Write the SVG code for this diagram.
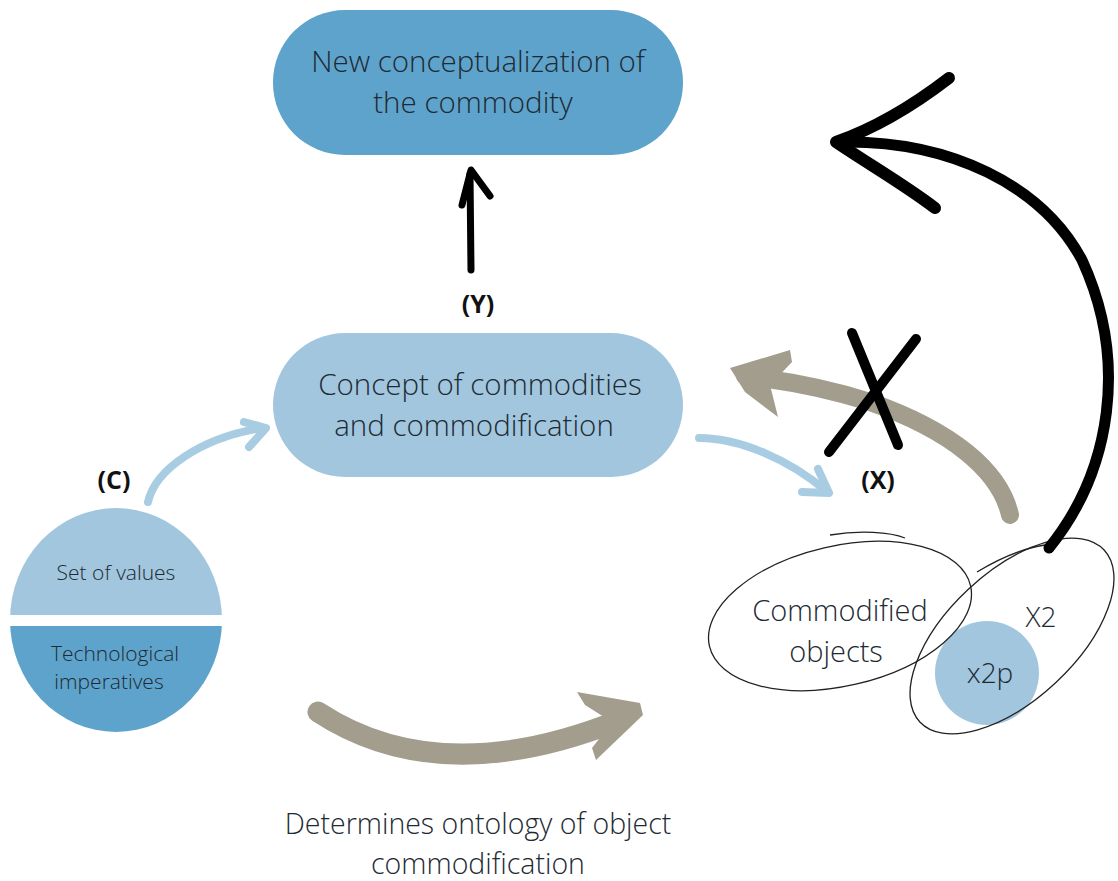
<svg xmlns="http://www.w3.org/2000/svg" width="1118" height="881" viewBox="0 0 1118 881">
  <style>
    .lbl { font-family: "Open Sans", "Liberation Sans", sans-serif; font-weight: 300; fill: #1e2a33; text-anchor: middle; }
    .tag { font-family: "Open Sans", "Liberation Sans", sans-serif; font-weight: 700; fill: #111; text-anchor: middle; font-size: 25px; }
    .dark { fill: #5ea3cb; }
    .light { fill: #a1c6de; }
    .sketch { fill: none; stroke: #222; stroke-width: 1.3; }
    .grey { fill: none; stroke: #a39d8d; stroke-linecap: round; }
    .greyhead { fill: #a39d8d; }
    .blue { fill: none; stroke: #a8cde3; stroke-width: 8; stroke-linecap: round; }
    .bluehead { fill: none; stroke: #a8cde3; stroke-width: 8; stroke-linecap: round; stroke-linejoin: round; }
    .ink { fill: none; stroke: #000; stroke-linecap: round; stroke-linejoin: round; }
  </style>
  <defs>
    <clipPath id="disc">
      <ellipse cx="116" cy="620" rx="106" ry="112"/>
    </clipPath>
  </defs>
  <rect width="1118" height="881" fill="#fff"/>

  <!-- top: new conceptualization -->
  <g id="node-new-concept">
    <rect x="273" y="10" width="410" height="145" rx="72" class="dark"/>
    <text class="lbl" font-size="29.5" x="478" y="72">New conceptualization of</text>
    <text class="lbl" font-size="29.5" x="473" y="113">the commodity</text>
  </g>

  <!-- middle: concept of commodities -->
  <g id="node-concept">
    <rect x="273" y="333" width="410" height="144" rx="72" class="light"/>
    <text class="lbl" font-size="29.5" x="480" y="395">Concept of commodities</text>
    <text class="lbl" font-size="29.5" x="474" y="436">and commodification</text>
  </g>

  <!-- split disc: values over imperatives -->
  <g id="node-values">
    <g clip-path="url(#disc)">
      <rect x="0" y="500" width="240" height="115" class="light"/>
      <rect x="0" y="626" width="240" height="115" class="dark"/>
    </g>
    <text class="lbl" font-size="21" x="116" y="580">Set of values</text>
    <text class="lbl" font-size="21" x="115" y="661">Technological</text>
    <text class="lbl" font-size="21" x="109" y="689">imperatives</text>
  </g>

  <!-- commodified objects and X2 sets -->
  <g id="node-x2p">
    <circle cx="987" cy="673" r="52" class="light"/>
  </g>
  <g id="node-commodified">
    <ellipse cx="840" cy="616" rx="134" ry="70" transform="rotate(-13 840 616)" class="sketch"/>
    <path d="M830,535 C860,530 890,532 905,538" class="sketch" stroke-width="1"/>
    <text class="lbl" font-size="29" x="840" y="621">Commodified</text>
    <text class="lbl" font-size="29" x="836" y="662">objects</text>
  </g>
  <g id="node-x2">
    <ellipse cx="1012" cy="636" rx="126" ry="64" transform="rotate(-43 1012 636)" class="sketch"/>
    <path d="M977,572 C1000,558 1025,548 1045,545" class="sketch" stroke-width="1"/>
    <text class="lbl" font-size="28" x="1041" y="627">X2</text>
    <text class="lbl" font-size="28" x="990" y="683">x2p</text>
  </g>

  <!-- labels -->
  <text class="tag" x="478" y="313">(Y)</text>
  <text class="tag" x="114" y="489">(C)</text>
  <text class="tag" x="878" y="489">(X)</text>
  <text class="lbl" font-size="28.5" x="478" y="834">Determines ontology of object</text>
  <text class="lbl" font-size="28.5" x="478" y="874">commodification</text>

  <g id="connectors">
    <!-- C to concept -->
    <path d="M148,502 C155,470 200,438 262,428" class="blue"/>
    <path d="M244,422 L266,428 L249,447" class="bluehead"/>

    <!-- concept to X -->
    <path d="M699,438 C740,438 790,460 826,491" class="blue"/>
    <path d="M818,469 L829,493 L802,492" class="bluehead"/>

    <!-- concept up to new conceptualization -->
    <path d="M471,270 L470,174" class="ink" stroke-width="7"/>
    <path d="M462,205 L471,170 L490,196" class="ink" stroke-width="7"/>

    <!-- values to commodified objects (bottom) -->
    <path d="M318,712 Q440,792 620,720" class="grey" stroke-width="21"/>
    <path d="M577,692 L640,703 L643,715 L596,760 L592,748 L612,722 L585,705 Z" class="greyhead"/>

    <!-- commodified objects back to concept (rejected) -->
    <path d="M1010,515 C1000,470 950,430 870,402 C820,386 780,380 745,376" class="grey" stroke-width="18"/>
    <path d="M730,368 L790,350 L792,362 L770,385 L778,417 L745,392 Z" class="greyhead"/>

    <!-- cross over rejected path -->
    <path d="M852,333 L898,445" class="ink" stroke-width="10"/>
    <path d="M916,339 L829,452" class="ink" stroke-width="10"/>

    <!-- X2 to new conceptualization -->
    <path d="M1049,548 C1112,470 1128,360 1082,260 C1042,185 950,140 840,142" class="ink" stroke-width="11"/>
    <path d="M949,78 C910,108 870,130 836,142 C870,165 905,185 935,208" class="ink" stroke-width="12"/>
  </g>
</svg>
